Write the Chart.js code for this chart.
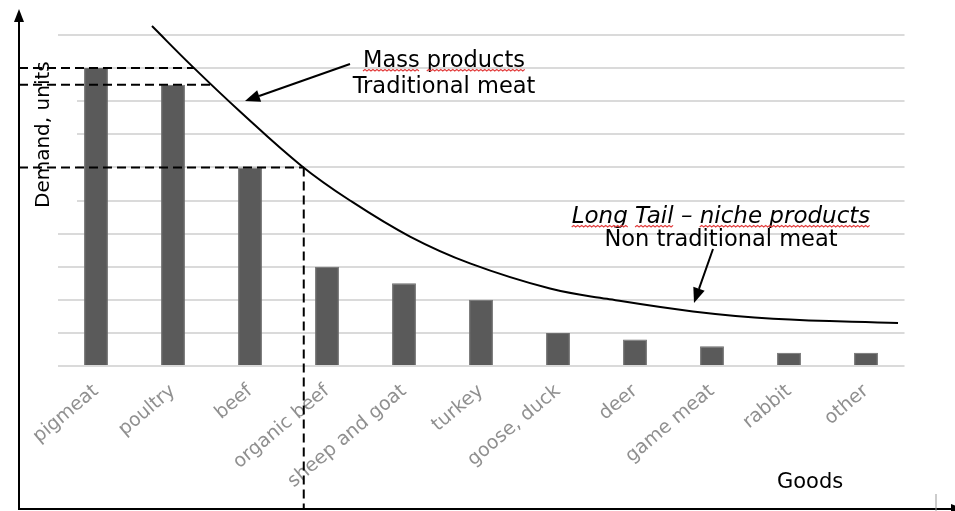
<!DOCTYPE html>
<html><head><meta charset="utf-8">
<script src="https://cdn.jsdelivr.net/npm/chart.js@4/dist/chart.umd.min.js"></script>
<style>html,body{margin:0;padding:0;background:#fff;overflow:hidden;}</style>
</head><body>
<canvas id="c" width="955" height="511"></canvas>
<script>
// ---- data ----
const categories = ['pigmeat','poultry','beef','organic beef','sheep and goat','turkey','goose, duck','deer','game meat','rabbit','other'];
const demand = [9, 8.5, 6, 3, 2.5, 2, 1, 0.8, 0.6, 0.4, 0.4];
// long-tail curve, x in category-index units, y in demand units
const curveX = [0.727, 1.247, 1.870, 2.662, 3.299, 4.078, 4.857, 5.896, 6.636, 7.753, 8.792, 10.416];
const curveY = [10.27, 9.06, 7.69, 6.06, 5.00, 3.91, 3.10, 2.34, 2.03, 1.65, 1.43, 1.30];
const yMin = 0, yMax = 10, yStep = 1;
// dashed guide levels = first three products
const guideIdx = [0, 1, 2];

const FONT = "'DejaVu Sans', Verdana, sans-serif";

function curveXAt(v) {
  for (let i = 0; i < curveY.length - 1; i++) {
    const a = curveY[i], b = curveY[i + 1];
    if ((a >= v && v >= b)) {
      return curveX[i] + (curveX[i + 1] - curveX[i]) * (a - v) / (a - b);
    }
  }
  return curveX[0];
}

function arrow(ctx, x1, y1, x2, y2, len, hw) {
  const ang = Math.atan2(y2 - y1, x2 - x1);
  const bx = x2 - len * Math.cos(ang), by = y2 - len * Math.sin(ang);
  ctx.beginPath(); ctx.moveTo(x1, y1); ctx.lineTo(bx, by); ctx.stroke();
  ctx.beginPath();
  ctx.moveTo(x2, y2);
  ctx.lineTo(bx + hw * Math.sin(ang), by - hw * Math.cos(ang));
  ctx.lineTo(bx - hw * Math.sin(ang), by + hw * Math.cos(ang));
  ctx.closePath(); ctx.fill();
}

function squiggle(ctx, x1, x2, y) {
  ctx.save();
  ctx.strokeStyle = '#e23b3b'; ctx.lineWidth = 1.2;
  ctx.beginPath();
  let up = true;
  ctx.moveTo(x1, y);
  for (let x = x1 + 2; x <= x2; x += 2) { ctx.lineTo(x, up ? y - 1.6 : y); up = !up; }
  ctx.stroke();
  ctx.restore();
}

function centeredText(ctx, text, cx, by, words) {
  const w = ctx.measureText(text).width;
  const x0 = cx - w / 2;
  ctx.fillText(text, x0, by);
  (words || []).forEach(([s, e]) => {
    const xs = x0 + ctx.measureText(text.slice(0, s)).width;
    const xe = x0 + ctx.measureText(text.slice(0, e)).width;
    squiggle(ctx, xs, xe, by + 4);
  });
}

const deco = {
  id: 'deco',
  beforeDatasetsDraw(chart) {
    const ctx = chart.ctx;
    ctx.save(); ctx.fillStyle = '#fff'; ctx.fillRect(21, 45, 56, 168); ctx.restore();
  },
  afterDraw(chart) {
    const { ctx } = chart;
    const y = chart.scales.y, xc = chart.scales.xc;
    const axX = 19, axY = 509;
    ctx.save();
    // dashed guides
    ctx.strokeStyle = '#000'; ctx.lineWidth = 2; ctx.setLineDash([9, 5]);
    let lastX = 0, lastY = 0;
    guideIdx.forEach(i => {
      const v = demand[i];
      const py = y.getPixelForValue(v);
      const px = xc.getPixelForValue(curveXAt(v));
      ctx.beginPath(); ctx.moveTo(axX, py); ctx.lineTo(px, py); ctx.stroke();
      lastX = px; lastY = py;
    });
    ctx.beginPath(); ctx.moveTo(lastX, lastY); ctx.lineTo(lastX, axY); ctx.stroke();
    ctx.setLineDash([]);

    // axes with arrows
    ctx.fillStyle = '#000'; ctx.strokeStyle = '#000'; ctx.lineWidth = 2;
    arrow(ctx, axX, axY + 1, axX, 9, 13, 5);
    arrow(ctx, axX - 1, axY, 964, axY, 13, 5);
    ctx.strokeStyle = '#999'; ctx.lineWidth = 1;
    ctx.beginPath(); ctx.moveTo(936, 494); ctx.lineTo(936, 511); ctx.stroke();

    // y label
    ctx.fillStyle = '#000';
    ctx.save();
    ctx.translate(49, 208); ctx.rotate(-Math.PI / 2);
    ctx.font = '20px ' + FONT; ctx.textAlign = 'left'; ctx.textBaseline = 'alphabetic';
    ctx.fillText('Demand, units', 0, 0);
    ctx.restore();

    // annotations
    ctx.textBaseline = 'alphabetic';
    ctx.font = '22.5px ' + FONT;
    centeredText(ctx, 'Mass products', 444, 67, [[0, 4], [5, 13]]);
    centeredText(ctx, 'Traditional meat', 444, 93);
    ctx.font = 'italic 23px ' + FONT;
    centeredText(ctx, 'Long Tail \u2013 niche products', 721, 223, [[0, 4], [5, 9], [12, 26]]);
    ctx.font = '22.5px ' + FONT;
    centeredText(ctx, 'Non traditional meat', 721, 246);
    ctx.font = '21px ' + FONT;
    ctx.fillText('Goods', 777, 488);

    // arrows to the curve
    ctx.strokeStyle = '#000'; ctx.fillStyle = '#000'; ctx.lineWidth = 2;
    arrow(ctx, 350, 64, 245, 101, 15, 6);
    arrow(ctx, 713, 249, 694, 303, 15, 6);
    ctx.restore();
  }
};

new Chart(document.getElementById('c'), {
  data: {
    labels: categories,
    datasets: [
      {
        type: 'line', order: 0, xAxisID: 'xc', yAxisID: 'y',
        data: curveX.map((x, i) => ({ x, y: curveY[i] })),
        borderColor: '#000', borderWidth: 2, pointRadius: 0,
        tension: 0.4, clip: false, fill: false
      },
      {
        type: 'bar', order: 1, xAxisID: 'x', yAxisID: 'y',
        data: demand, backgroundColor: '#5a5a5a', borderColor: '#6e6e6e', borderWidth: 1,
        barPercentage: 0.31, categoryPercentage: 1, grouped: false
      }
    ]
  },
  options: {
    responsive: false, animation: false,
    layout: { padding: { left: 57.5, right: 50.5, top: 35, bottom: 0 } },
    plugins: { legend: { display: false }, tooltip: { enabled: false } },
    scales: {
      x: {
        type: 'category', offset: true,
        grid: { display: false, drawTicks: false }, border: { display: false },
        ticks: { color: '#909090', font: { family: FONT, size: 19 }, minRotation: 40, maxRotation: 40, autoSkip: false, padding: 14 },
        afterFit(s) { s.height = 145; }
      },
      xc: { type: 'linear', display: false, min: -0.5, max: 10.5 },
      y: {
        min: yMin, max: yMax,
        ticks: { display: false, stepSize: yStep },
        grid: { color: '#dadada', lineWidth: 2, drawTicks: false },
        border: { display: false },
        afterFit(s) { s.width = 0; }
      }
    }
  },
  plugins: [deco]
});
</script>
</body></html>
